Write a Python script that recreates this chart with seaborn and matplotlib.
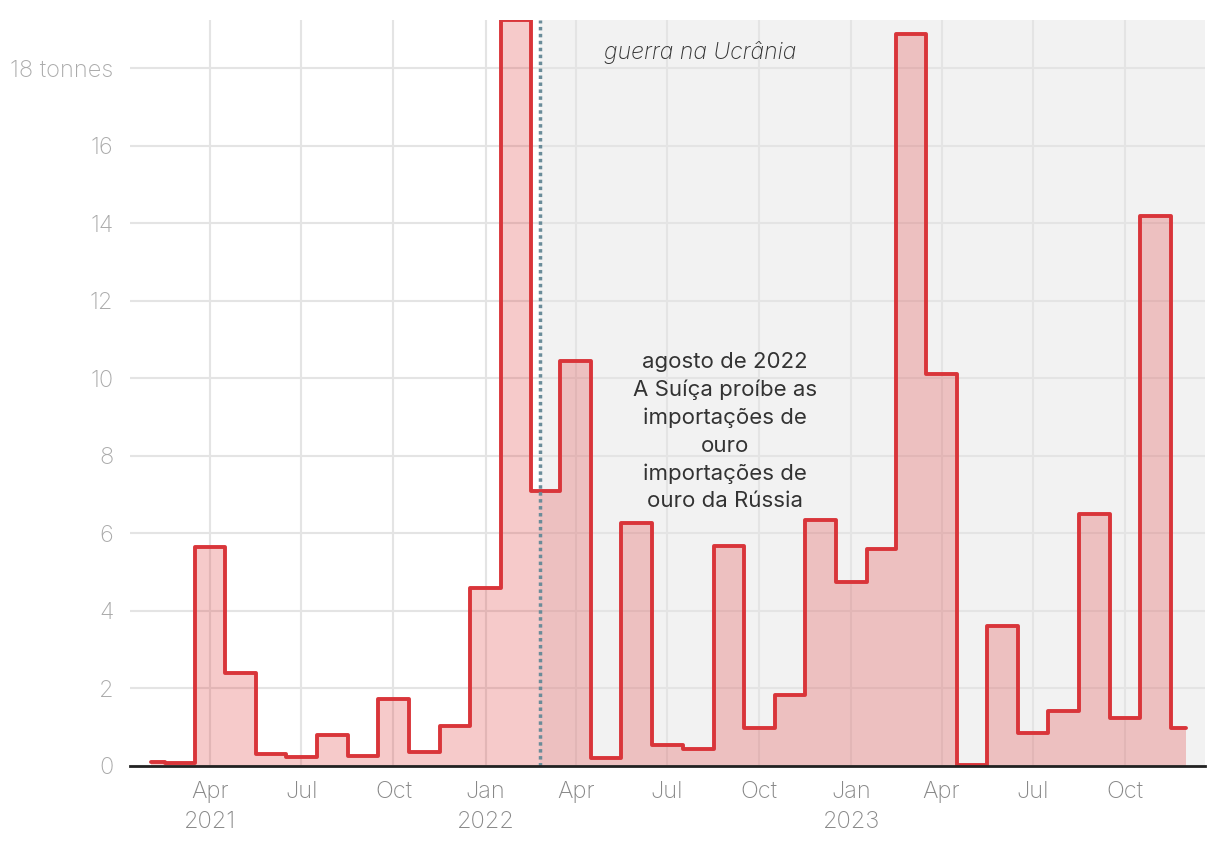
import matplotlib
matplotlib.use("Agg")
import matplotlib.pyplot as plt
import seaborn as sns
import pandas as pd

# Monthly Swiss gold imports from Russia (tonnes), Feb 2021 – Dec 2023
months = pd.date_range("2021-02-01", "2023-12-01", freq="MS")
tonnes = [0.10, 0.08, 5.65, 2.40, 0.30, 0.22, 0.80, 0.25, 1.73, 0.35, 1.03,
          4.60, 19.25, 7.10, 10.45, 0.20, 6.28, 0.55, 0.43, 5.68, 0.98, 1.82, 6.36,
          4.75, 5.60, 18.90, 10.12, 0.03, 3.60, 0.85, 1.42, 6.50, 1.23, 14.20, 0.97]
war_date = pd.Timestamp("2022-02-24")
war_label = "guerra na Ucrânia"
ban_label = ("agosto de 2022\nA Suíça proíbe as\nimportações de\nouro\n"
             "importações de\nouro da Rússia")
y_ticks = [0, 2, 4, 6, 8, 10, 12, 14, 16, 18]
y_tick_labels = ["0", "2", "4", "6", "8", "10", "12", "14", "16", "18 tonnes"]
x_ticks = pd.date_range("2021-04-01", "2023-10-01", freq="3MS")

df = pd.DataFrame({"month": months, "tonnes": tonnes})

sns.set_theme(style="white")
plt.rcParams["font.family"] = ["Inter", "DejaVu Sans"]

fig = plt.figure(figsize=(12.2, 8.48), dpi=100)
ax = fig.add_axes([130 / 1220, 82 / 848, 1075 / 1220, 746 / 848])

x_left = pd.Timestamp("2021-01-11")
x_right = pd.Timestamp("2023-12-20")
ax.set_xlim(x_left, x_right)
ax.set_ylim(0, 19.25)

# shaded war period
ax.axvspan(war_date, x_right, color="#f2f2f2", zorder=0, lw=0)

# grid
for yt in y_ticks:
    ax.axhline(yt, color="#e4e4e4", lw=1.5, zorder=1)
for xt in x_ticks:
    ax.axvline(xt, color="#e4e4e4", lw=1.5, zorder=1)

ax.fill_between(df["month"], df["tonnes"], step="mid", color="#e03c3c",
                alpha=0.27, lw=0, zorder=2)
sns.lineplot(data=df, x="month", y="tonnes", drawstyle="steps-mid",
             color="#d9353a", lw=2.8, ax=ax, zorder=4)

ax.axvline(war_date, color="#6a8c99", lw=2.5, linestyle=(0, (1, 1)), zorder=5)

ax.text(pd.Timestamp("2022-08-03"), 18.4, war_label, style="italic",
        fontsize=16.5, fontweight="light", color="#333333", ha="center",
        va="center", zorder=6)
ax.text(pd.Timestamp("2022-08-28"), 8.63, ban_label, fontsize=16,
        color="#333333", ha="center", va="center", linespacing=1.47, zorder=6)

# axes styling
for s in ["top", "right", "left"]:
    ax.spines[s].set_visible(False)
ax.spines["bottom"].set_color("#222222")
ax.spines["bottom"].set_linewidth(2)
ax.spines["bottom"].set_zorder(6)

ax.set_yticks(y_ticks)
ax.set_yticklabels(y_tick_labels)
xlabels = []
for d in x_ticks:
    lab = d.strftime("%b")
    if d.month == 4 and d.year == 2021 or d.month == 1:
        lab += "\n" + str(d.year)
    xlabels.append(lab)
ax.set_xticks(x_ticks)
ax.set_xticklabels(xlabels, linespacing=1.45)
ax.tick_params(axis="y", length=0, pad=12, labelsize=17, labelcolor="#aaaaaa")
ax.tick_params(axis="x", length=0, pad=11, labelsize=17, labelcolor="#888888")
for lab in ax.get_yticklabels() + ax.get_xticklabels():
    lab.set_fontweight("light")
ax.set_xlabel("")
ax.set_ylabel("")
ax.grid(False)

fig.savefig("out.png", dpi=100)
